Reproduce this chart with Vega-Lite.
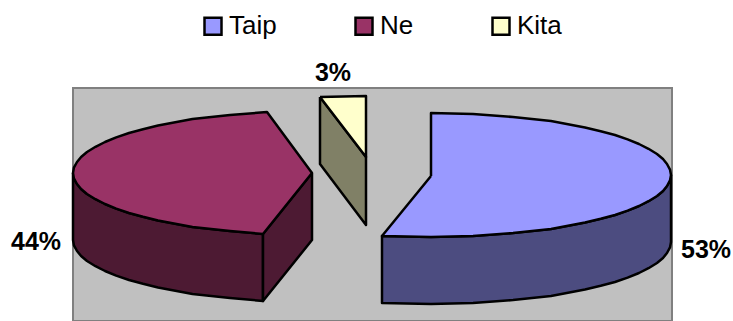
{
  "$schema": "https://vega.github.io/schema/vega-lite/v6.json",
  "width": 599,
  "height": 233,
  "padding": {"left": 73, "top": 88, "right": 61, "bottom": 0},
  "autosize": "none",
  "background": "white",
  "view": {"fill": "#c0c0c0", "stroke": "#808080", "strokeWidth": 2},
  "datasets": {
    "faces": [
      {"piece":"Taip side","face":"Taip side","x":598,"y":87},{"piece":"Taip side","face":"Taip side","x":597,"y":92.4},{"piece":"Taip side","face":"Taip side","x":594,"y":98},{"piece":"Taip side","face":"Taip side","x":590,"y":103},{"piece":"Taip side","face":"Taip side","x":584,"y":108},{"piece":"Taip side","face":"Taip side","x":575.5,"y":113.2},{"piece":"Taip side","face":"Taip side","x":566,"y":118},{"piece":"Taip side","face":"Taip side","x":554.6,"y":122.6},{"piece":"Taip side","face":"Taip side","x":542,"y":127},{"piece":"Taip side","face":"Taip side","x":527.7,"y":130.8},{"piece":"Taip side","face":"Taip side","x":512,"y":134.5},{"piece":"Taip side","face":"Taip side","x":478,"y":141},{"piece":"Taip side","face":"Taip side","x":440,"y":145},{"piece":"Taip side","face":"Taip side","x":400,"y":148},{"piece":"Taip side","face":"Taip side","x":358,"y":149},{"piece":"Taip side","face":"Taip side","x":309,"y":148},{"piece":"Taip side","face":"Taip side","x":309,"y":215},{"piece":"Taip side","face":"Taip side","x":358,"y":216},{"piece":"Taip side","face":"Taip side","x":400,"y":215},{"piece":"Taip side","face":"Taip side","x":440,"y":212},{"piece":"Taip side","face":"Taip side","x":478,"y":208},{"piece":"Taip side","face":"Taip side","x":512,"y":201.5},{"piece":"Taip side","face":"Taip side","x":527.7,"y":197.8},{"piece":"Taip side","face":"Taip side","x":542,"y":194},{"piece":"Taip side","face":"Taip side","x":554.6,"y":189.6},{"piece":"Taip side","face":"Taip side","x":566,"y":185},{"piece":"Taip side","face":"Taip side","x":575.5,"y":180.2},{"piece":"Taip side","face":"Taip side","x":584,"y":175},{"piece":"Taip side","face":"Taip side","x":590,"y":170},{"piece":"Taip side","face":"Taip side","x":594,"y":165},{"piece":"Taip side","face":"Taip side","x":597,"y":159.4},{"piece":"Taip side","face":"Taip side","x":598,"y":154},{"piece":"Taip side","face":"Taip side","x":598,"y":87},
      {"piece":"Taip top","face":"Taip","x":358,"y":88},{"piece":"Taip top","face":"Taip","x":358,"y":25},{"piece":"Taip top","face":"Taip","x":400,"y":26},{"piece":"Taip top","face":"Taip","x":440,"y":29},{"piece":"Taip top","face":"Taip","x":478,"y":33},{"piece":"Taip top","face":"Taip","x":512,"y":39.5},{"piece":"Taip top","face":"Taip","x":527.7,"y":43.2},{"piece":"Taip top","face":"Taip","x":542,"y":47},{"piece":"Taip top","face":"Taip","x":554.6,"y":51.4},{"piece":"Taip top","face":"Taip","x":566,"y":56},{"piece":"Taip top","face":"Taip","x":575.5,"y":60.8},{"piece":"Taip top","face":"Taip","x":584,"y":66},{"piece":"Taip top","face":"Taip","x":590,"y":71},{"piece":"Taip top","face":"Taip","x":594,"y":76},{"piece":"Taip top","face":"Taip","x":597,"y":81.6},{"piece":"Taip top","face":"Taip","x":598,"y":87},{"piece":"Taip top","face":"Taip","x":597,"y":92.4},{"piece":"Taip top","face":"Taip","x":594,"y":98},{"piece":"Taip top","face":"Taip","x":590,"y":103},{"piece":"Taip top","face":"Taip","x":584,"y":108},{"piece":"Taip top","face":"Taip","x":575.5,"y":113.2},{"piece":"Taip top","face":"Taip","x":566,"y":118},{"piece":"Taip top","face":"Taip","x":554.6,"y":122.6},{"piece":"Taip top","face":"Taip","x":542,"y":127},{"piece":"Taip top","face":"Taip","x":527.7,"y":130.8},{"piece":"Taip top","face":"Taip","x":512,"y":134.5},{"piece":"Taip top","face":"Taip","x":478,"y":141},{"piece":"Taip top","face":"Taip","x":440,"y":145},{"piece":"Taip top","face":"Taip","x":400,"y":148},{"piece":"Taip top","face":"Taip","x":358,"y":149},{"piece":"Taip top","face":"Taip","x":309,"y":148},{"piece":"Taip top","face":"Taip","x":358,"y":88},
      {"piece":"Ne side","face":"Ne side","x":0,"y":85},{"piece":"Ne side","face":"Ne side","x":0.9,"y":90.4},{"piece":"Ne side","face":"Ne side","x":4,"y":96},{"piece":"Ne side","face":"Ne side","x":8.1,"y":101},{"piece":"Ne side","face":"Ne side","x":14,"y":106},{"piece":"Ne side","face":"Ne side","x":22.5,"y":111.2},{"piece":"Ne side","face":"Ne side","x":32,"y":116},{"piece":"Ne side","face":"Ne side","x":43.2,"y":120.6},{"piece":"Ne side","face":"Ne side","x":56,"y":125},{"piece":"Ne side","face":"Ne side","x":70,"y":128.8},{"piece":"Ne side","face":"Ne side","x":85,"y":132.5},{"piece":"Ne side","face":"Ne side","x":119.5,"y":139},{"piece":"Ne side","face":"Ne side","x":157,"y":143},{"piece":"Ne side","face":"Ne side","x":190,"y":146},{"piece":"Ne side","face":"Ne side","x":190,"y":213},{"piece":"Ne side","face":"Ne side","x":157,"y":210},{"piece":"Ne side","face":"Ne side","x":119.5,"y":206},{"piece":"Ne side","face":"Ne side","x":85,"y":199.5},{"piece":"Ne side","face":"Ne side","x":70,"y":195.8},{"piece":"Ne side","face":"Ne side","x":56,"y":192},{"piece":"Ne side","face":"Ne side","x":43.2,"y":187.6},{"piece":"Ne side","face":"Ne side","x":32,"y":183},{"piece":"Ne side","face":"Ne side","x":22.5,"y":178.2},{"piece":"Ne side","face":"Ne side","x":14,"y":173},{"piece":"Ne side","face":"Ne side","x":8.1,"y":168},{"piece":"Ne side","face":"Ne side","x":4,"y":163},{"piece":"Ne side","face":"Ne side","x":0.9,"y":157.4},{"piece":"Ne side","face":"Ne side","x":0,"y":152},{"piece":"Ne side","face":"Ne side","x":0,"y":85},
      {"piece":"Ne cut","face":"Ne side","x":190,"y":146},{"piece":"Ne cut","face":"Ne side","x":239,"y":85},{"piece":"Ne cut","face":"Ne side","x":239,"y":152},{"piece":"Ne cut","face":"Ne side","x":190,"y":213},{"piece":"Ne cut","face":"Ne side","x":190,"y":146},
      {"piece":"Ne top","face":"Ne","x":239,"y":85},{"piece":"Ne top","face":"Ne","x":194,"y":24},{"piece":"Ne top","face":"Ne","x":157,"y":27},{"piece":"Ne top","face":"Ne","x":119.5,"y":31},{"piece":"Ne top","face":"Ne","x":85,"y":37.5},{"piece":"Ne top","face":"Ne","x":70,"y":41.2},{"piece":"Ne top","face":"Ne","x":56,"y":45},{"piece":"Ne top","face":"Ne","x":43.2,"y":49.4},{"piece":"Ne top","face":"Ne","x":32,"y":54},{"piece":"Ne top","face":"Ne","x":22.5,"y":58.8},{"piece":"Ne top","face":"Ne","x":14,"y":64},{"piece":"Ne top","face":"Ne","x":8.1,"y":69},{"piece":"Ne top","face":"Ne","x":4,"y":74},{"piece":"Ne top","face":"Ne","x":0.9,"y":79.6},{"piece":"Ne top","face":"Ne","x":0,"y":85},{"piece":"Ne top","face":"Ne","x":0.9,"y":90.4},{"piece":"Ne top","face":"Ne","x":4,"y":96},{"piece":"Ne top","face":"Ne","x":8.1,"y":101},{"piece":"Ne top","face":"Ne","x":14,"y":106},{"piece":"Ne top","face":"Ne","x":22.5,"y":111.2},{"piece":"Ne top","face":"Ne","x":32,"y":116},{"piece":"Ne top","face":"Ne","x":43.2,"y":120.6},{"piece":"Ne top","face":"Ne","x":56,"y":125},{"piece":"Ne top","face":"Ne","x":70,"y":128.8},{"piece":"Ne top","face":"Ne","x":85,"y":132.5},{"piece":"Ne top","face":"Ne","x":119.5,"y":139},{"piece":"Ne top","face":"Ne","x":157,"y":143},{"piece":"Ne top","face":"Ne","x":190,"y":146},{"piece":"Ne top","face":"Ne","x":239,"y":85},
      {"piece":"Kita side","face":"Kita side","x":247,"y":9},{"piece":"Kita side","face":"Kita side","x":293,"y":69},{"piece":"Kita side","face":"Kita side","x":293,"y":137},{"piece":"Kita side","face":"Kita side","x":247,"y":76},{"piece":"Kita side","face":"Kita side","x":247,"y":9},
      {"piece":"Kita top","face":"Kita","x":247,"y":9},{"piece":"Kita top","face":"Kita","x":270,"y":8.5},{"piece":"Kita top","face":"Kita","x":293,"y":8},{"piece":"Kita top","face":"Kita","x":293,"y":69},{"piece":"Kita top","face":"Kita","x":247,"y":9}
    ],
    "shares": [
      {"name":"Taip","share":0.53,"x":633,"y":162},
      {"name":"Ne","share":0.44,"x":-37,"y":154},
      {"name":"Kita","share":0.03,"x":260,"y":-15.5}
    ]
  },
  "layer": [
    {
      "data": {"name": "faces"},
      "transform": [{"window": [{"op": "row_number", "as": "vertex"}]}],
      "mark": {"type": "line", "stroke": "black", "strokeWidth": 2.5, "strokeJoin": "round", "clip": false},
      "encoding": {
        "x": {"field": "x", "type": "quantitative", "scale": {"domain": [0, 599]}, "axis": null},
        "y": {"field": "y", "type": "quantitative", "scale": {"domain": [233, 0]}, "axis": null},
        "order": {"field": "vertex", "type": "quantitative"},
        "detail": {"field": "piece"},
        "fill": {
          "field": "face",
          "type": "nominal",
          "sort": null,
          "scale": {
            "domain": ["Taip", "Ne", "Kita", "Taip side", "Ne side", "Kita side"],
            "range": ["#9999ff", "#993366", "#ffffcc", "#4c4c80", "#4d1a33", "#808066"]
          },
          "legend": {
            "values": ["Taip", "Ne", "Kita"],
            "title": null,
            "orient": "none",
            "direction": "horizontal",
            "legendX": 127,
            "legendY": -75,
            "symbolType": "square",
            "symbolSize": 289,
            "symbolStrokeColor": "black",
            "symbolStrokeWidth": 2.5,
            "labelFontSize": 26,
            "labelFont": "Liberation Sans",
            "labelColor": "black",
            "labelOffset": 3,
            "columnPadding": 73,
            "symbolOpacity": 1,
            "labelLimit": 200
          }
        }
      }
    },
    {
      "data": {"name": "shares"},
      "mark": {"type": "text", "font": "Liberation Sans", "fontWeight": "bold", "fontSize": 25, "align": "center", "baseline": "middle", "color": "black"},
      "encoding": {
        "x": {"field": "x", "type": "quantitative", "scale": {"domain": [0, 599]}},
        "y": {"field": "y", "type": "quantitative", "scale": {"domain": [233, 0]}},
        "text": {"field": "share", "type": "quantitative", "format": ".0%"}
      }
    }
  ]
}
